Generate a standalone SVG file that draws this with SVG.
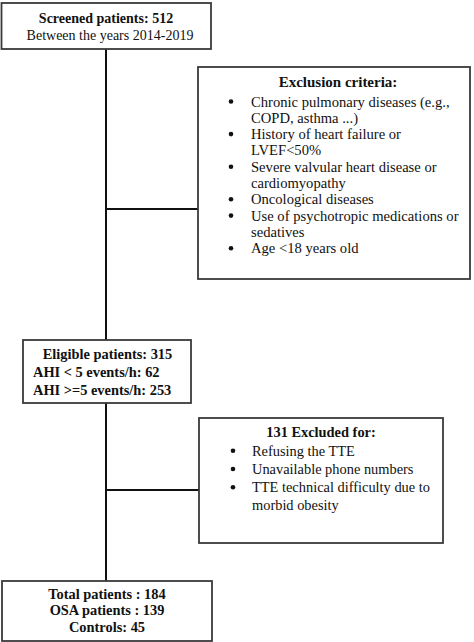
<svg xmlns="http://www.w3.org/2000/svg" width="474" height="642" viewBox="0 0 474 642">
<style>
.box{fill:#fff;stroke:#3a3a3a;stroke-width:1.8}
.t{font-family:"Liberation Serif","Times New Roman",serif;font-size:14.4px;fill:#111}
.s{font-size:14px}
.m{font-size:14.6px}
.b{font-weight:bold}
.c{text-anchor:middle}
.conn{stroke:#111;stroke-width:2;fill:none}
.dot{fill:#111}
</style>
<rect width="474" height="642" fill="#fff"/>
<g id="connectors">
<line class="conn" x1="106" y1="49" x2="106" y2="340"/>
<line class="conn" x1="106" y1="403" x2="106" y2="581"/>
<line class="conn" x1="106" y1="209" x2="198" y2="209"/>
<line class="conn" x1="106" y1="490" x2="199" y2="490"/>
</g>
<g id="screened">
<rect class="box" x="1.5" y="3" width="209.5" height="46"/>
<text class="t s b c" x="106" y="22.5">Screened patients: 512</text>
<text class="t s c" x="110" y="40">Between the years 2014-2019</text>
</g>
<g id="exclusion">
<rect class="box" x="198" y="67" width="272" height="212"/>
<text class="t b c" x="338" y="87" style="font-size:15px">Exclusion criteria:</text>
<circle class="dot" cx="231" cy="101.5" r="2.3"/>
<text class="t m" x="251" y="106.5">Chronic pulmonary diseases (e.g.,</text>
<text class="t m" x="251" y="122.8">COPD, asthma ...)</text>
<circle class="dot" cx="231" cy="134.1" r="2.3"/>
<text class="t m" x="251" y="139.1">History of heart failure or</text>
<text class="t m" x="251" y="155.4">LVEF&lt;50%</text>
<circle class="dot" cx="231" cy="166.7" r="2.3"/>
<text class="t m" x="251" y="171.7">Severe valvular heart disease or</text>
<text class="t m" x="251" y="188">cardiomyopathy</text>
<circle class="dot" cx="231" cy="199.3" r="2.3"/>
<text class="t m" x="251" y="204.3">Oncological diseases</text>
<circle class="dot" cx="231" cy="215.6" r="2.3"/>
<text class="t m" x="251" y="220.6">Use of psychotropic medications or</text>
<text class="t m" x="251" y="236.9">sedatives</text>
<circle class="dot" cx="231" cy="248.2" r="2.3"/>
<text class="t m" x="251" y="253.2">Age &lt;18 years old</text>
</g>
<g id="eligible">
<rect class="box" x="23" y="340" width="168" height="63"/>
<text class="t b c" x="107.5" y="358.5">Eligible patients: 315</text>
<text class="t b" x="33" y="377">AHI &lt; 5 events/h: 62</text>
<text class="t b" x="33" y="394.5">AHI &gt;=5 events/h: 253</text>
</g>
<g id="excluded131">
<rect class="box" x="199" y="418" width="244" height="125"/>
<text class="t b c" x="321" y="437">131 Excluded for:</text>
<circle class="dot" cx="233" cy="450.7" r="2.3"/>
<text class="t" x="252" y="455.7">Refusing the TTE</text>
<circle class="dot" cx="233" cy="469" r="2.3"/>
<text class="t" x="252" y="474">Unavailable phone numbers</text>
<circle class="dot" cx="233" cy="487.3" r="2.3"/>
<text class="t" x="252" y="492.3">TTE technical difficulty due to</text>
<text class="t" x="252" y="510">morbid obesity</text>
</g>
<g id="total">
<rect class="box" x="2" y="581" width="210" height="60"/>
<text class="t b c" x="107" y="598.5">Total patients : 184</text>
<text class="t b c" x="107" y="615">OSA patients : 139</text>
<text class="t b c" x="107" y="631.5">Controls: 45</text>
</g>
</svg>
